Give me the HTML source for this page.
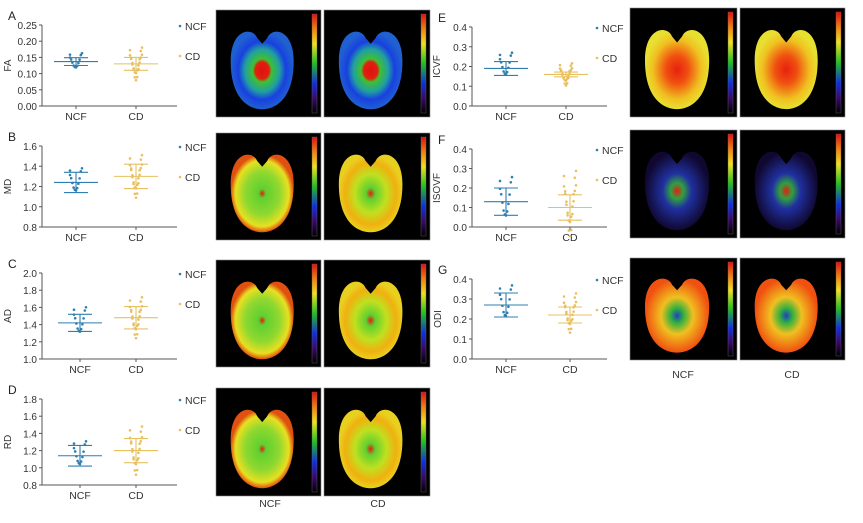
<!DOCTYPE html><html><head><meta charset="utf-8"><style>
body{margin:0;background:#fff;width:863px;height:518px;overflow:hidden}
svg text{font-family:"Liberation Sans",sans-serif}
</style></head><body>
<svg id="s" width="863" height="518" viewBox="0 0 863 518" xmlns="http://www.w3.org/2000/svg">
<defs>
<linearGradient id="cb" x1="0" y1="1" x2="0" y2="0">
<stop offset="0" stop-color="#000"/><stop offset="0.15" stop-color="#3a0a6a"/><stop offset="0.3" stop-color="#1030e0"/><stop offset="0.5" stop-color="#20c020"/><stop offset="0.7" stop-color="#f0e020"/><stop offset="0.85" stop-color="#f08010"/><stop offset="1" stop-color="#e01010"/></linearGradient>
<radialGradient id="gFA"><stop offset="0" stop-color="#e01010"/><stop offset="0.22" stop-color="#e02010"/><stop offset="0.3" stop-color="#40c030"/><stop offset="0.55" stop-color="#20a0a0"/><stop offset="0.75" stop-color="#1840e0"/><stop offset="1" stop-color="#2060d0"/></radialGradient>
<radialGradient id="gMD"><stop offset="0" stop-color="#e02010"/><stop offset="0.12" stop-color="#60d030"/><stop offset="0.55" stop-color="#90d830"/><stop offset="0.85" stop-color="#e8e020"/><stop offset="1" stop-color="#e05010"/></radialGradient>
<radialGradient id="gMD2"><stop offset="0" stop-color="#e02010"/><stop offset="0.15" stop-color="#60d030"/><stop offset="0.5" stop-color="#c0e020"/><stop offset="0.8" stop-color="#f0b010"/><stop offset="1" stop-color="#e8d020"/></radialGradient>
<radialGradient id="gIC"><stop offset="0" stop-color="#e82010"/><stop offset="0.35" stop-color="#f05010"/><stop offset="0.75" stop-color="#f0c020"/><stop offset="1" stop-color="#e8e030"/></radialGradient>
<radialGradient id="gIS"><stop offset="0" stop-color="#e02010"/><stop offset="0.2" stop-color="#30a040"/><stop offset="0.45" stop-color="#2030a0"/><stop offset="1" stop-color="#100830"/></radialGradient>
<radialGradient id="gOD"><stop offset="0" stop-color="#2040c0"/><stop offset="0.2" stop-color="#30b040"/><stop offset="0.5" stop-color="#f0c020"/><stop offset="1" stop-color="#f05010"/></radialGradient>
</defs>
<g id="g"></g>
</svg>
<script>
var o='';
function t(x,y,s,sz,a,c,extra){o+='<text x="'+x+'" y="'+y+'" font-size="'+sz+'" text-anchor="'+(a||'start')+'" fill="'+(c||'#333')+'" '+(extra||'')+'>'+s+'</text>';}
function l(x1,y1,x2,y2,c,w){o+='<line x1="'+x1+'" y1="'+y1+'" x2="'+x2+'" y2="'+y2+'" stroke="'+c+'" stroke-width="'+(w||1)+'"/>';}
function chart(L,ax,yt,yb,v0,v1,step,dec,lab,letter,nx,cx,ncf,cd,legx){
 var xe=ax+135;
 function Y(v){return yb-(v-v0)/(v1-v0)*(yb-yt);}
 t(ax-34,yt-5,letter,12,'start','#222');
 l(ax,yt,ax,yb,'#555');l(ax,yb,xe,yb,'#555');
 for(var v=v0;v<=v1+1e-9;v+=step){var y=Y(v);l(ax-3,y,ax,y,'#555');t(ax-5,y+4,v.toFixed(dec),10,'end');}
 l(nx,yb,nx,yb+3,'#555');l(cx,yb,cx,yb+3,'#555');
 t(nx,yb+14,'NCF',10.5,'middle');t(cx,yb+14,'CD',10.5,'middle');
 var my=(yt+yb)/2,lx=ax-(lab.length>3?32:31);t(lx,my,lab,10,'middle','#333','transform="rotate(-90 '+lx+' '+my+')"');
 [[nx,ncf,'#2f7fb0'],[cx,cd,'#e8c060']].forEach(function(d){
  var x=d[0],m=d[1][0],s=d[1][1],c=d[2],pts=d[1][2];
  pts.forEach(function(p,i){var dx=((i*7)%11-5)*1.2;o+='<circle cx="'+(x+dx)+'" cy="'+Y(p)+'" r="1.3" fill="'+c+'"/>';});
  l(x-22,Y(m),x+22,Y(m),c,1.1);l(x-12,Y(m+s),x+12,Y(m+s),c,1.1);l(x-12,Y(m-s),x+12,Y(m-s),c,1.1);l(x,Y(m+s),x,Y(m-s),c,1.1);
 });
 o+='<circle cx="'+legx+'" cy="'+(yt+1)+'" r="1.3" fill="#2f7fb0"/>';t(legx+5,yt+5,'NCF',10.5);
 o+='<circle cx="'+legx+'" cy="'+(yt+31)+'" r="1.3" fill="#e8c060"/>';t(legx+5,yt+35,'CD',10.5);
}
function pts(m,s,n,sp){var a=[];for(var i=0;i<n;i++){a.push(m+s*sp*Math.sin(i*2.3+1)*(i%3==0?1.4:0.8));}return a;}
function brain(x,y,w,h,g){
 o+='<rect x="'+x+'" y="'+y+'" width="'+w+'" height="'+h+'" fill="#000" stroke="#888" stroke-width="0.6"/>';
 var cx=x+w*0.44,cy=y+h*0.55,rx=w*0.3,ry=h*0.36;
 o+='<path d="M'+(cx-rx)+' '+(cy-ry*0.2)+' C'+(cx-rx)+' '+(cy-ry*1.05)+' '+(cx-rx*0.3)+' '+(cy-ry*1.1)+' '+(cx-5)+' '+(cy-ry*0.8)+' L'+cx+' '+(cy-ry*0.65)+' L'+(cx+5)+' '+(cy-ry*0.8)+' C'+(cx+rx*0.3)+' '+(cy-ry*1.1)+' '+(cx+rx)+' '+(cy-ry*1.05)+' '+(cx+rx)+' '+(cy-ry*0.2)+' C'+(cx+rx)+' '+(cy+ry*0.8)+' '+(cx+rx*0.4)+' '+(cy+ry*1.05)+' '+cx+' '+(cy+ry*1.05)+' C'+(cx-rx*0.4)+' '+(cy+ry*1.05)+' '+(cx-rx)+' '+(cy+ry*0.8)+' '+(cx-rx)+' '+(cy-ry*0.2)+' Z" fill="url(#'+g+')"/>';
 o+='<rect x="'+(x+w-9)+'" y="'+(y+4)+'" width="5" height="'+(h-8)+'" fill="url(#cb)" stroke="#666" stroke-width="0.4"/>';
}
chart(0,42,25,106,0,0.25,0.05,2,'FA','A',76,136,[0.137,0.012,pts(0.135,0.02,12,1)],[0.13,0.02,pts(0.13,0.03,22,1.2)],180);
chart(0,42,146,227,0.8,1.6,0.2,1,'MD','B',76,136,[1.24,0.1,pts(1.24,0.1,12,1)],[1.3,0.12,pts(1.3,0.15,22,1)],180);
chart(0,42,273,359,1.0,2.0,0.2,1,'AD','C',80,136,[1.42,0.1,pts(1.42,0.13,12,1)],[1.48,0.13,pts(1.48,0.17,22,1)],180);
chart(0,42,399,485,0.8,1.8,0.2,1,'RD','D',80,136,[1.14,0.12,pts(1.14,0.12,12,1)],[1.2,0.14,pts(1.2,0.2,22,1)],180);
chart(0,472,27,106,0,0.4,0.1,1,'ICVF','E',506,566,[0.19,0.035,pts(0.2,0.05,12,1)],[0.16,0.012,pts(0.16,0.04,22,1)],597);
chart(0,472,149,227,0,0.4,0.1,1,'ISOVF','F',506,570,[0.13,0.07,pts(0.13,0.09,12,1)],[0.10,0.065,pts(0.12,0.12,22,1)],597);
chart(0,472,279,359,0,0.4,0.1,1,'ODI','G',506,570,[0.27,0.06,pts(0.27,0.07,12,1)],[0.22,0.04,pts(0.23,0.07,22,1)],597);
brain(216,10,105,107,'gFA');brain(324,10,106,107,'gFA');
brain(216,133,105,107,'gMD');brain(324,133,106,107,'gMD2');
brain(216,260,105,107,'gMD');brain(324,260,106,107,'gMD2');
brain(216,388,105,108,'gMD');brain(324,388,106,108,'gMD2');
brain(630,8,107,109,'gIC');brain(740,8,105,109,'gIC');
brain(630,130,107,108,'gIS');brain(740,130,105,108,'gIS');
brain(630,258,107,102,'gOD');brain(740,258,105,102,'gOD');
t(270,507,'NCF',10.5,'middle');t(378,507,'CD',10.5,'middle');
t(683,378,'NCF',10.5,'middle');t(792,378,'CD',10.5,'middle');
document.getElementById('g').innerHTML=o;
</script>
</body></html>
